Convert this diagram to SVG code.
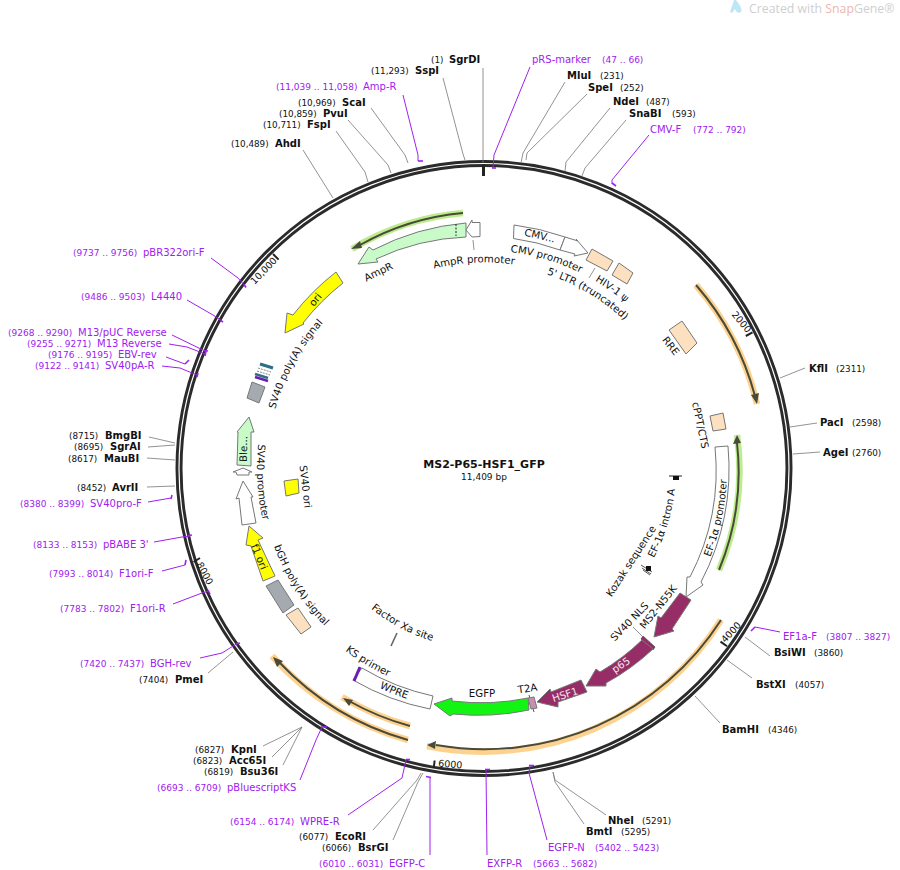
<svg xmlns="http://www.w3.org/2000/svg" width="900" height="870" viewBox="0 0 900 870">
<style>
text{font-family:"DejaVu Sans",Verdana,sans-serif;fill:#111}
.n{font-size:8.8px}
.b{font-size:10px;font-weight:bold}
.pn{font-size:9px;fill:#a020f0}
.pl{font-size:10px;fill:#a020f0}
.t{font-size:10.2px;text-anchor:middle}
.tk{font-size:9.5px;text-anchor:middle}
.tick{fill:none;stroke:#222;stroke-width:2}
.lead{fill:none;stroke:#777;stroke-width:.8}
.plead{fill:none;stroke:#a020f0;stroke-width:1}
.hk{fill:none;stroke:#a020f0;stroke-width:1.6}
.ft{stroke:#777;stroke-width:1}
.hy{fill:none;stroke-width:6.5;stroke-linecap:butt}
.dk{fill:none;stroke:#4a4a3a;stroke-width:2}
</style>
<defs>
<path id="t206" d="M351.5,310.7A206,206 0 0 1 616.5,310.7"/>
<path id="t204" d="M352.8,312.2A204,204 0 0 1 615.2,312.2"/>
<path id="t218" d="M343.8,301.5A218,218 0 0 1 624.2,301.5"/>
<path id="t217" d="M344.5,302.3A217,217 0 0 1 623.5,302.3"/>
<path id="b243" d="M327.8,654.6A243,243 0 0 0 640.2,654.6"/>
<path id="b227" d="M338,642.4A227,227 0 0 0 630,642.4"/>
<path id="b224" d="M340,640A224,224 0 0 0 628,640"/>
<path id="b229" d="M336.8,643.9A229,229 0 0 0 631.2,643.9"/>
<path id="b180" d="M368.3,606.4A180,180 0 0 0 599.7,606.4"/>
<path id="b192" d="M360.6,615.6A192,192 0 0 0 607.4,615.6"/>
</defs>

<g id="watermark">
<path d="M730,12L734,0L736,0C739,4 742,8 741.5,11C740,14 736,13 735,9L732,13Z" fill="#bfe6f5"/>
<text x="749" y="13" style="font-family:'Open Sans',sans-serif;font-size:12.3px;fill:#cfcfcf">Created with <tspan style="fill:#efb5b0">Snap</tspan>Gene®</text>
</g>

<g id="backbone">
<circle cx="484" cy="468.5" r="305" fill="none" stroke="#2b2b2b" stroke-width="7"/>
<circle cx="484" cy="468.5" r="305" fill="none" stroke="#fff" stroke-width="1.2"/>
<path d="M483.5,165V176" stroke="#222" stroke-width="3"/>
</g>

<g id="title">
<text x="484" y="468" style="font-size:11px;font-weight:bold;text-anchor:middle">MS2-P65-HSF1_GFP</text>
<text x="484" y="480" style="font-size:9px;text-anchor:middle">11,409 bp</text>
</g>

<g id="connectors">
<path class="lead" d="M483,68V163"/>
<path class="lead" d="M443,78L463,154L465,160"/>
<path class="lead" d="M371,108L405,155L408,163"/>
<path class="lead" d="M348,120L388,165L391,173"/>
<path class="lead" d="M336,131L365,172L368,182"/>
<path class="lead" d="M303,150L333,198"/>
<path class="lead" d="M565,82L523,153L521,163"/>
<path class="lead" d="M587,94L527,153L526,160"/>
<path class="lead" d="M610,108L566,162L565,171"/>
<path class="lead" d="M626,120L585,168L582,176"/>
<path class="lead" d="M805,368L780,378"/>
<path class="lead" d="M817,423L790,427"/>
<path class="lead" d="M820,452L793,454"/>
<path class="lead" d="M770,656L745,637"/>
<path class="lead" d="M752,678L727,660"/>
<path class="lead" d="M720,723L695,696"/>
<path class="lead" d="M606,815L555,780L553,772"/>
<path class="lead" d="M584,824L555,782L553,772"/>
<path class="lead" d="M393,840L418,782L423,773"/>
<path class="lead" d="M373,830L417,780L421,773"/>
<path class="lead" d="M283,765L302,727"/>
<path class="lead" d="M272,757L302,727"/>
<path class="lead" d="M263,746L302,727"/>
<path class="lead" d="M208,673L233,652"/>
<path class="lead" d="M147,487L175,486"/>
<path class="lead" d="M147,458L175,460"/>
<path class="lead" d="M148,447L175,445"/>
<path class="lead" d="M149,437L175,443"/>
<path class="lead" d="M473,240L474,250"/>
<path class="lead" d="M595,268L589,278"/>
<path class="lead" d="M633,627L642,636"/>
<path class="plead" d="M403,95L418,155L418,161"/><path class="hk" d="M418,161H423"/>
<path class="plead" d="M530,67L494,155L493,168"/><path class="hk" d="M492,168H496"/>
<path class="plead" d="M649,135L612,180L612,184"/><path class="hk" d="M612,183L616,186"/>
<path class="plead" d="M780,632L755,627"/><path class="hk" d="M755,627L751,631"/>
<path class="plead" d="M547,840L529,773L530,766"/><path class="hk" d="M529,765.5H534"/>
<path class="plead" d="M487,855L486,770"/><path class="hk" d="M485,769.5H490"/>
<path class="plead" d="M430,855L430,778"/><path class="hk" d="M426,776.5L431,777.5"/>
<path class="plead" d="M348,815L402,778L406,760"/><path class="hk" d="M406,759.5H410"/>
<path class="plead" d="M300,780L316,740L322,727"/><path class="hk" d="M321,727H327"/>
<path class="plead" d="M200,658L222,653L238,643"/><path class="hk" d="M236,644L240,643"/>
<path class="plead" d="M173,604L202,593L209,591"/><path class="hk" d="M208,590L210,594"/>
<path class="plead" d="M162,571L185,565"/><path class="hk" d="M185,565L186,560"/>
<path class="plead" d="M154,542L182,537L190,536"/><path class="hk" d="M188,535.5L192,535"/>
<path class="plead" d="M148,502L171,498"/><path class="hk" d="M171,499L172,495"/>
<path class="plead" d="M162,366L180,368L197,375"/><path class="hk" d="M197,377L198,373"/>
<path class="plead" d="M166,357L185,364"/><path class="hk" d="M185,364L189,360"/>
<path class="plead" d="M169,344L187,347L205,354"/><path class="hk" d="M205,356L206,351"/>
<path class="plead" d="M172,335L205,351"/><path class="hk" d="M204,350.5L208,351"/>
<path class="plead" d="M187,300L213,315L222,321"/><path class="hk" d="M220.5,320.5L223,322"/>
<path class="plead" d="M211,258L238,278L245,286"/><path class="hk" d="M244,284.5L246,287.5"/>
</g>

<g id="ticks">
<path class="tick" d="M273,254L278.6,259.6"/>
<path class="tick" d="M193.5,562L200,558"/>
<path class="tick" d="M752.5,332.3L745.8,336"/>
<path class="tick" d="M727,646.3L720.5,641.6"/>
<path class="tick" d="M434.6,760.5L433.8,768"/>
<text class="tk" transform="translate(266,273) rotate(-46)">10,000</text>
<text class="tk" transform="translate(202,575) rotate(62)">8000</text>
<text class="tk" transform="translate(739,324) rotate(50)">2000</text>
<text class="tk" transform="translate(733.5,634.5) rotate(-47)">4000</text>
<text class="tk" transform="translate(450,767.5) rotate(5)">6000</text>
</g>

<g id="orf-AmpR"><path class="hy" stroke="#bdec8c" d="M463,213A257,257 0 0 0 352,249"/><path class="dk" d="M463,213A257,257 0 0 0 360,245"/><path fill="#4a4a3a" d="M351,249L360,241L362,248Z"/></g>
<g id="orf-RRE"><path class="hy" stroke="#fcd28e" d="M696,285A281,281 0 0 1 757,404"/><path class="dk" d="M696,285A281,281 0 0 1 755,396"/><path fill="#4a4a3a" d="M757,404L751,395L759,393Z"/></g>
<g id="orf-EF1a"><path class="hy" stroke="#bdec8c" d="M719,570A255.5,255.5 0 0 0 737,435"/><path class="dk" d="M719,570A255.5,255.5 0 0 0 737,443"/><path fill="#4a4a3a" d="M737,435L733,444L741,443Z"/></g>
<g id="orf-large"><path class="hy" stroke="#fcd28e" d="M721,620A281,281 0 0 1 427,746"/><path class="dk" d="M721,620A281,281 0 0 1 436,745"/><path fill="#4a4a3a" d="M427,745L436,741L435,749Z"/></g>
<g id="orf-left1"><path class="hy" stroke="#fcd28e" d="M408,740A282,282 0 0 1 272,656"/><path class="dk" d="M408,740A282,282 0 0 1 279,662"/><path fill="#4a4a3a" d="M273,657L283,661L277,667Z"/></g>
<g id="orf-left2"><path class="hy" stroke="#fcd28e" d="M410,726A268,268 0 0 1 342,697"/><path class="dk" d="M410,726A268,268 0 0 1 349,701"/><path fill="#4a4a3a" d="M343,698L353,700L349,706Z"/></g>

<g id="AmpR"><path class="ft" fill="#c8fbc8" d="M466,223A247,247 0 0 0 373,250L369,247L358,264L378,262L376,259A233,233 0 0 1 466,237Z"/><path d="M456,224V236" stroke="#222" stroke-dasharray="2 1.5" fill="none"/><text class="t" transform="translate(380,275) rotate(-26)">AmpR</text></g>
<g id="AmpR-promoter"><path class="ft" fill="#fff" d="M480,222.5L472,222.5L472,220L466,230L472,237L480,236.5Z"/><g transform="rotate(-2.8 484 468.5)"><text class="t"><textPath href="#t206" startOffset="50%">AmpR promoter</textPath></text></g></g>
<g id="CMV-enhancer"><path class="ft" fill="#fff" d="M514,225A245,245 0 0 1 565,237L560,250A232,232 0 0 0 513.5,238.5Z"/><text class="t" transform="translate(539,239) rotate(13)">CMV...</text></g>
<g id="CMV-promoter"><path class="ft" fill="#fff" d="M565,237L578,241L576,239L588,253L574,256L575,254L560,250Z"/><g transform="rotate(16.6 484 468.5)"><text class="t"><textPath href="#t218" startOffset="50%">CMV promoter</textPath></text></g></g>
<g id="LTR"><path class="ft" fill="#fde0c0" d="M592,249L613,261L607,271L586,260Z"/><g transform="rotate(30.7 484 468.5)"><text class="t"><textPath href="#t204" startOffset="50%">5' LTR (truncated)</textPath></text></g></g>
<g id="HIV-psi"><path class="ft" fill="#fde0c0" d="M619,263L633,273L627,284L612,275Z"/><g transform="rotate(35.5 484 468.5)"><text class="t"><textPath href="#t218" startOffset="50%">HIV-1 ψ</textPath></text></g></g>
<g id="RRE"><path class="ft" fill="#fde0c0" d="M682,321L697,343L686,354L669,330Z"/><text class="t" transform="translate(668,348) rotate(52)">RRE</text></g>
<g id="cPPT"><path class="ft" fill="#fde0c0" d="M710,416L723,413L726,429L713,431Z"/><text class="t" transform="translate(697,426) rotate(78)">cPPT/CTS</text></g>
<g id="EF1a-promoter"><path class="ft" fill="#fff" d="M715,447L728,446A245,245 0 0 1 701,582L703,585L686,597L687,577L690,577A232,232 0 0 0 715,447Z"/><g transform="rotate(-78 484 468.5)"><text class="t"><textPath href="#b243" startOffset="50%">EF-1α promoter</textPath></text></g></g>
<g id="EF1a-intron"><path d="M669,476H682M676,476V480" stroke="#222" fill="none"/><rect x="673" y="476" width="6" height="4" fill="#111"/><g transform="rotate(-73 484 468.5)"><text class="t"><textPath href="#b192" startOffset="50%">EF-1α intron A</textPath></text></g></g>
<g id="Kozak"><path d="M641,565L652,572M642,568L651,574M643,570L650,575" stroke="#555" stroke-width="1" fill="none"/><rect x="646" y="566" width="5" height="5" fill="#111"/><text class="t" transform="translate(634,563) rotate(-57)">Kozak sequence</text></g>
<g id="MS2-N55K"><path class="ft" fill="#962d66" d="M680,593L691,600L672,629L674,631L654,637L658,616L661,618Z"/><text class="t" transform="translate(661,609) rotate(-51)">MS2-N55K</text></g>
<g id="SV40-NLS"><path fill="#962d66" stroke="#444" stroke-width=".7" d="M643,636L655,647L653,650L641,639Z"/><text class="t" transform="translate(632,624) rotate(-46)">SV40 NLS</text></g>
<g id="p65"><path class="ft" fill="#962d66" d="M642,640L653,649A233,233 0 0 1 606,683L606,686L586,686L596,669L600,672A218,218 0 0 0 642,640Z"/><text class="t" style="fill:#f5e6ee" transform="translate(623,668) rotate(-35)">p65</text></g>
<g id="HSF1"><path class="ft" fill="#962d66" d="M581,680L587,692L558,702L558,707L537,702L550,689L551,692Z"/><text class="t" style="fill:#f5e6ee" transform="translate(566,698) rotate(-18)">HSF1</text></g>
<g id="T2A"><path d="M529,695L534,712" stroke="#555" fill="none"/><path class="ft" fill="#c98fb0" d="M528,698L534,697L537,708L531,709Z"/><text class="t" transform="translate(528,692) rotate(-8)">T2A</text></g>
<g id="EGFP"><path class="ft" fill="#12f512" d="M528,698A233,233 0 0 1 452,701L452,698L434,704L450,716L453,714A245,245 0 0 0 529,710Z"/><text class="t" x="482" y="697">EGFP</text></g>
<g id="WPRE"><path class="ft" fill="#fff" d="M362,668A233,233 0 0 0 433,696L430,709A246,246 0 0 1 353,680Z"/><g transform="rotate(22 484 468.5)"><text class="t"><textPath href="#b243" startOffset="50%">WPRE</textPath></text></g></g>
<g id="KS-primer"><path d="M360,667L354,681" stroke="#6a1fb0" stroke-width="3" fill="none"/><g transform="rotate(31 484 468.5)"><text class="t"><textPath href="#b229" startOffset="50%">KS primer</textPath></text></g></g>
<g id="Factor-Xa"><path d="M397,633L391,646" stroke="#666" stroke-width="1.6" fill="none"/><g transform="rotate(27.8 484 468.5)"><text class="t"><textPath href="#b180" startOffset="50%">Factor Xa site</textPath></text></g></g>
<g id="bGH-polyA"><path class="ft" fill="#a5aab0" d="M278,580L294,605L283,613L266,586Z"/><g transform="rotate(57.5 484 468.5)"><text class="t"><textPath href="#b224" startOffset="50%">bGH poly(A) signal</textPath></text></g></g>
<g id="peach-lower"><path class="ft" fill="#fde0c0" d="M298,608L311,627L301,634L286,615Z"/></g>
<g id="f1-ori"><path class="ft" fill="#ffff00" d="M249,526L263,538L258,540L275,576L263,581L251,546L246,545Z"/><text class="t" transform="translate(256,558) rotate(68)">f1 ori</text></g>
<g id="SV40-promoter"><path class="ft" fill="#fff" d="M243,481L253,497L251,497L256,523L242,525L239,498L236,499Z"/><g transform="rotate(86.5 484 468.5)"><text class="t"><textPath href="#b227" startOffset="50%">SV40 promoter</textPath></text></g></g>
<g id="small-promoter"><path class="ft" fill="#fff" d="M243,468L252,472L249,472L249,475L237,475L236,472L233,472Z"/></g>
<g id="Ble"><path class="ft" fill="#c8fbc8" d="M249,417L254,432L251,432L251,466L237,465L238,432L237,432Z"/><text class="t" transform="translate(247,449) rotate(-89)">Ble...</text></g>
<g id="SV40-ori"><path class="ft" fill="#ffff00" d="M284,481L298,479L299,493L286,496Z"/><text class="t" transform="translate(302,487) rotate(83)">SV40 ori</text></g>
<g id="SV40-polyA"><path class="ft" fill="#a5aab0" d="M252,382L265,387L259,403L247,398Z"/><g transform="rotate(-61 484 468.5)"><text class="t"><textPath href="#t217" startOffset="50%">SV40 poly(A) signal</textPath></text></g></g>
<g id="stripes"><path d="M260,364L273,368" stroke="#2f6f85" stroke-width="3" fill="none"/><path d="M258,368L271,372M257,371L270,375" stroke="#888" stroke-width="1" stroke-dasharray="2 1" fill="none"/><path d="M255,374L268,378" stroke="#2f6f85" stroke-width="2.5" fill="none"/><path d="M255,377L268,381" stroke="#6a1fb0" stroke-width="2.5" fill="none"/></g>
<g id="ori"><path class="ft" fill="#ffff00" d="M336,272L343,283A233,233 0 0 0 303,323L304,324L285,333L287,313L293,315A246,246 0 0 1 336,272Z"/><text class="t" transform="translate(318,302) rotate(-50)">ori</text></g>

<g id="sites">
<text class="n" x="431" y="63">(1)</text><text class="b" x="449" y="63">SgrDI</text>
<text class="n" x="371" y="74">(11,293)</text><text class="b" x="415" y="74">SspI</text>
<text class="n" x="298" y="106">(10,969)</text><text class="b" x="342" y="106">ScaI</text>
<text class="n" x="279" y="117">(10,859)</text><text class="b" x="323" y="117">PvuI</text>
<text class="n" x="263" y="128">(10,711)</text><text class="b" x="307" y="128">FspI</text>
<text class="n" x="231" y="147">(10,489)</text><text class="b" x="275" y="147">AhdI</text>
<text class="b" x="567" y="79">MluI</text><text class="n" x="600" y="79">(231)</text>
<text class="b" x="588" y="91">SpeI</text><text class="n" x="620" y="91">(252)</text>
<text class="b" x="613" y="105">NdeI</text><text class="n" x="646" y="105">(487)</text>
<text class="b" x="629" y="117">SnaBI</text><text class="n" x="672" y="117">(593)</text>
<text class="b" x="809" y="372">KflI</text><text class="n" x="836" y="372">(2311)</text>
<text class="b" x="820" y="426">PacI</text><text class="n" x="852" y="426">(2598)</text>
<text class="b" x="823" y="456">AgeI</text><text class="n" x="852" y="456">(2760)</text>
<text class="b" x="774" y="656">BsiWI</text><text class="n" x="814" y="656">(3860)</text>
<text class="b" x="756" y="688">BstXI</text><text class="n" x="795" y="688">(4057)</text>
<text class="b" x="722" y="733">BamHI</text><text class="n" x="768" y="733">(4346)</text>
<text class="b" x="608" y="824">NheI</text><text class="n" x="642" y="824">(5291)</text>
<text class="b" x="586" y="835">BmtI</text><text class="n" x="621" y="835">(5295)</text>
<text class="n" x="299" y="840">(6077)</text><text class="b" x="335" y="840">EcoRI</text>
<text class="n" x="322" y="851">(6066)</text><text class="b" x="358" y="851">BsrGI</text>
<text class="n" x="195" y="753">(6827)</text><text class="b" x="231" y="753">KpnI</text>
<text class="n" x="193" y="764">(6823)</text><text class="b" x="229" y="764">Acc65I</text>
<text class="n" x="204" y="775">(6819)</text><text class="b" x="240" y="775">Bsu36I</text>
<text class="n" x="139" y="683">(7404)</text><text class="b" x="175" y="683">PmeI</text>
<text class="n" x="77" y="491">(8452)</text><text class="b" x="112" y="491">AvrII</text>
<text class="n" x="69" y="439">(8715)</text><text class="b" x="105" y="439">BmgBI</text>
<text class="n" x="74" y="450">(8695)</text><text class="b" x="110" y="450">SgrAI</text>
<text class="n" x="68" y="462">(8617)</text><text class="b" x="104" y="462">MauBI</text>
</g>

<g id="primers">
<text class="pn" x="276" y="90">(11,039 .. 11,058)</text><text class="pl" x="363" y="90">Amp-R</text>
<text class="pl" x="532" y="63">pRS-marker</text><text class="pn" x="602" y="63">(47 .. 66)</text>
<text class="pl" x="650" y="133">CMV-F</text><text class="pn" x="693" y="133">(772 .. 792)</text>
<text class="pl" x="783" y="640">EF1a-F</text><text class="pn" x="826" y="640">(3807 .. 3827)</text>
<text class="pn" x="73" y="256">(9737 .. 9756)</text><text class="pl" x="143" y="256">pBR322ori-F</text>
<text class="pn" x="81" y="300">(9486 .. 9503)</text><text class="pl" x="151" y="300">L4440</text>
<text class="pn" x="8" y="336">(9268 .. 9290)</text><text class="pl" x="78" y="336">M13/pUC Reverse</text>
<text class="pn" x="27" y="347">(9255 .. 9271)</text><text class="pl" x="97" y="347">M13 Reverse</text>
<text class="pn" x="48" y="358">(9176 .. 9195)</text><text class="pl" x="118" y="358">EBV-rev</text>
<text class="pn" x="35" y="369">(9122 .. 9141)</text><text class="pl" x="105" y="369">SV40pA-R</text>
<text class="pn" x="20" y="507">(8380 .. 8399)</text><text class="pl" x="90" y="507">SV40pro-F</text>
<text class="pn" x="33" y="548">(8133 .. 8153)</text><text class="pl" x="103" y="548">pBABE 3'</text>
<text class="pn" x="49" y="577">(7993 .. 8014)</text><text class="pl" x="119" y="577">F1ori-F</text>
<text class="pn" x="60" y="612">(7783 .. 7802)</text><text class="pl" x="130" y="612">F1ori-R</text>
<text class="pn" x="80" y="667">(7420 .. 7437)</text><text class="pl" x="150" y="667">BGH-rev</text>
<text class="pn" x="157" y="791">(6693 .. 6709)</text><text class="pl" x="227" y="791">pBluescriptKS</text>
<text class="pn" x="230" y="825">(6154 .. 6174)</text><text class="pl" x="300" y="825">WPRE-R</text>
<text class="pn" x="319" y="867">(6010 .. 6031)</text><text class="pl" x="389" y="867">EGFP-C</text>
<text class="pl" x="487" y="867">EXFP-R</text><text class="pn" x="533" y="867">(5663 .. 5682)</text>
<text class="pl" x="548" y="851">EGFP-N</text><text class="pn" x="595" y="851">(5402 .. 5423)</text>
</g>
</svg>
